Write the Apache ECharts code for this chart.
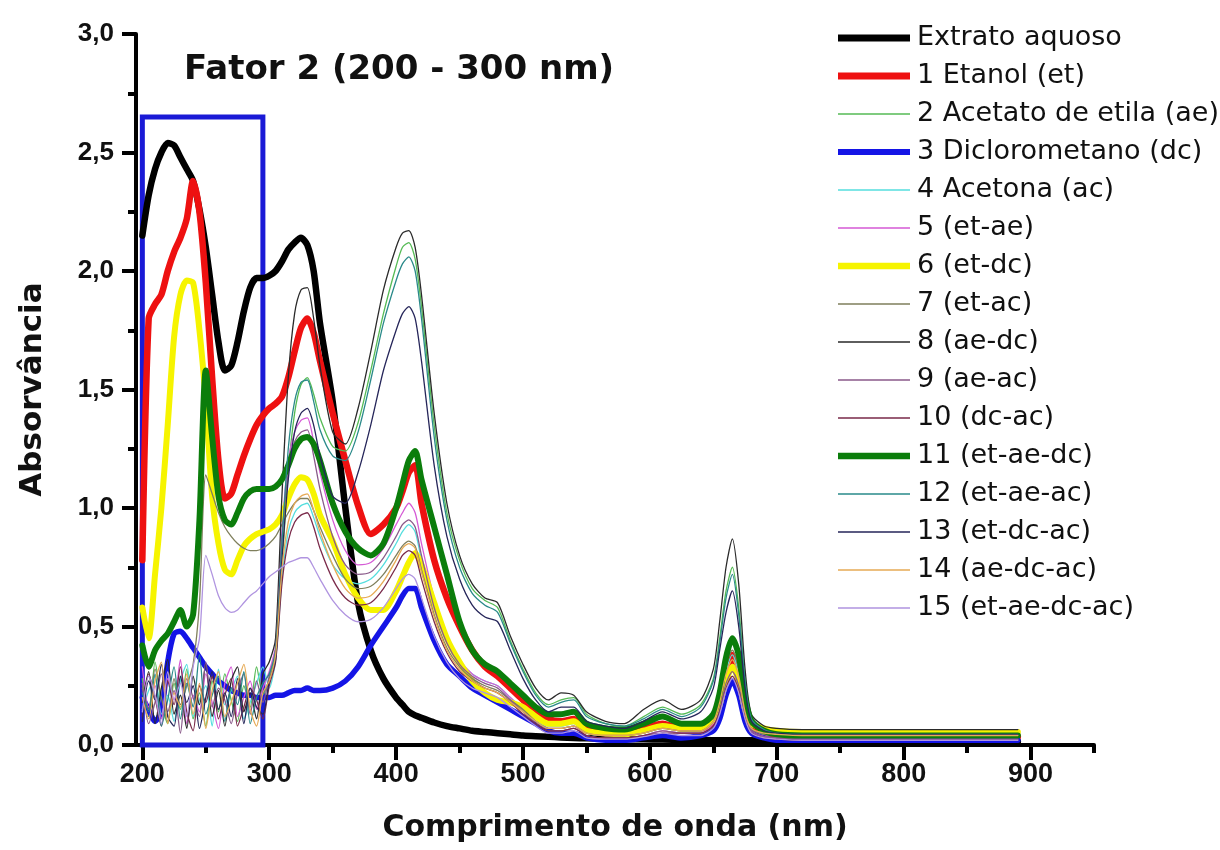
<!DOCTYPE html>
<html>
<head>
<meta charset="utf-8">
<title>Fator 2 (200 - 300 nm)</title>
<script src="https://cdn.jsdelivr.net/npm/echarts@6/dist/echarts.min.js"></script>
<style>
  html, body { margin: 0; padding: 0; background: #ffffff; }
  #chart { width: 1220px; height: 850px; }
</style>
</head>
<body>
<div id="chart"></div>
<script>
// Wavelength grid (nm) shared by every spectrum
const wavelength = [
  200,205,210,215,220,225,230,235,240,245,250,255,260,265,270,275,280,285,290,295,300,
  305,310,315,320,325,330,335,340,
  350,360,370,380,390,400,
  405,410,415,420,
  430,440,450,460,470,480,490,500,510,520,530,540,550,565,580,595,610,625,640,650,
  655,660,665,670,675,680,
  690,700,720,750,800,850,890
];

// Absorbance spectra
const extratoAquoso = [
  2.15,2.32,2.43,2.50,2.54,2.53,2.48,2.43,2.38,2.26,2.10,1.90,1.70,1.58,1.60,1.70,1.83,1.93,1.97,1.97,1.98,
  2.00,2.04,2.09,2.12,2.14,2.11,2.00,1.78,
  1.45,1.00,0.60,0.40,0.28,0.20,
  0.17,0.14,0.125,0.115,
  0.095,0.08,0.07,0.06,0.055,0.05,0.045,0.04,0.037,0.035,0.032,0.03,0.028,0.026,0.025,0.024,0.023,0.022,0.021,0.02,
  0.02,0.02,0.02,0.02,0.02,0.02,
  0.018,0.016,0.015,0.015,0.015,0.015,0.015
];
const etanol = [
  0.78,1.80,1.86,1.90,2.00,2.08,2.14,2.22,2.38,2.25,1.95,1.55,1.20,1.04,1.06,1.14,1.22,1.29,1.35,1.39,1.42,
  1.44,1.47,1.55,1.66,1.76,1.80,1.74,1.62,
  1.40,1.20,1.01,0.89,0.93,1.00,
  1.07,1.15,1.18,1.02,
  0.78,0.62,0.50,0.40,0.33,0.29,0.24,0.19,0.15,0.11,0.10,0.11,0.07,0.05,0.05,0.07,0.09,0.07,0.07,0.10,
  0.15,0.27,0.38,0.30,0.16,0.08,
  0.05,0.04,0.035,0.035,0.035,0.035,0.035
];
const acetatoEtila = [
  0.28,0.12,0.35,0.18,0.09,0.26,0.15,0.32,0.11,0.22,0.08,0.27,0.14,0.30,0.19,0.10,0.25,0.16,0.33,0.21,0.28,
  0.38,0.75,1.15,1.40,1.52,1.55,1.48,1.38,
  1.26,1.24,1.36,1.58,1.82,2.02,
  2.10,2.12,2.05,1.85,
  1.35,0.98,0.78,0.66,0.61,0.58,0.44,0.32,0.22,0.17,0.19,0.20,0.13,0.09,0.08,0.12,0.16,0.13,0.17,0.28,
  0.45,0.65,0.75,0.58,0.28,0.12,
  0.07,0.055,0.05,0.05,0.05,0.05,0.05
];
const diclorometano = [
  0.20,0.15,0.10,0.14,0.35,0.47,0.48,0.45,0.41,0.37,0.33,0.30,0.27,0.25,0.23,0.22,0.21,0.21,0.20,0.20,0.20,
  0.21,0.21,0.22,0.23,0.23,0.24,0.23,0.23,
  0.24,0.27,0.33,0.42,0.50,0.58,
  0.63,0.66,0.66,0.58,
  0.44,0.34,0.29,0.24,0.21,0.18,0.15,0.12,0.09,0.06,0.05,0.05,0.03,0.02,0.02,0.03,0.04,0.03,0.04,0.06,
  0.11,0.21,0.27,0.21,0.10,0.05,
  0.03,0.02,0.02,0.02,0.02,0.02,0.02
];
const acetona = [
  0.15,0.23,0.29,0.13,0.21,0.10,0.27,0.34,0.12,0.19,0.25,0.08,0.32,0.17,0.23,0.29,0.11,0.18,0.26,0.33,0.24,
  0.36,0.70,0.90,0.98,1.01,1.02,0.96,0.88,
  0.76,0.70,0.68,0.70,0.76,0.85,
  0.90,0.93,0.90,0.78,
  0.58,0.44,0.35,0.30,0.27,0.25,0.20,0.15,0.10,0.08,0.08,0.09,0.05,0.04,0.04,0.05,0.07,0.06,0.06,0.10,
  0.18,0.31,0.38,0.30,0.14,0.07,
  0.045,0.04,0.035,0.035,0.035,0.035,0.035
];
const etAe = [
  0.33,0.16,0.25,0.11,0.28,0.19,0.36,0.09,0.21,0.14,0.30,0.18,0.07,0.26,0.33,0.12,0.20,0.27,0.15,0.24,0.31,
  0.42,0.90,1.20,1.32,1.37,1.38,1.28,1.15,
  0.95,0.82,0.76,0.77,0.83,0.93,
  0.98,1.02,0.98,0.85,
  0.62,0.46,0.36,0.30,0.27,0.25,0.20,0.15,0.10,0.07,0.07,0.08,0.04,0.03,0.03,0.04,0.06,0.05,0.05,0.09,
  0.16,0.28,0.34,0.27,0.13,0.06,
  0.035,0.03,0.025,0.025,0.025,0.025,0.025
];
const etDc = [
  0.58,0.45,0.72,1.00,1.35,1.72,1.90,1.96,1.95,1.75,1.45,1.05,0.85,0.74,0.72,0.78,0.84,0.87,0.89,0.90,0.91,
  0.93,0.97,1.04,1.10,1.13,1.12,1.06,0.97,
  0.86,0.72,0.62,0.57,0.57,0.65,
  0.71,0.77,0.81,0.76,
  0.60,0.45,0.35,0.27,0.22,0.19,0.18,0.16,0.12,0.09,0.09,0.10,0.06,0.05,0.045,0.06,0.08,0.07,0.07,0.11,
  0.17,0.27,0.33,0.27,0.15,0.09,
  0.07,0.06,0.055,0.055,0.055,0.055,0.055
];
const etAc = [
  0.24,0.15,0.32,0.20,0.10,0.28,0.17,0.25,0.34,0.60,1.14,1.06,0.98,0.92,0.88,0.85,0.83,0.82,0.82,0.83,0.85,
  0.88,0.93,0.98,1.02,1.04,1.04,0.99,0.92,
  0.80,0.70,0.66,0.67,0.72,0.80,
  0.84,0.86,0.84,0.74,
  0.55,0.41,0.33,0.28,0.25,0.23,0.19,0.15,0.10,0.07,0.07,0.08,0.05,0.04,0.04,0.05,0.07,0.06,0.06,0.10,
  0.19,0.33,0.40,0.32,0.15,0.07,
  0.045,0.04,0.035,0.035,0.035,0.035,0.035
];
const aeDc = [
  0.18,0.31,0.09,0.24,0.36,0.13,0.21,0.07,0.29,0.17,0.34,0.12,0.23,0.08,0.27,0.33,0.14,0.22,0.11,0.30,0.35,
  0.45,1.05,1.55,1.82,1.92,1.93,1.80,1.60,
  1.32,1.27,1.42,1.66,1.92,2.10,
  2.16,2.17,2.10,1.90,
  1.40,1.02,0.80,0.68,0.62,0.60,0.46,0.34,0.24,0.19,0.22,0.21,0.14,0.10,0.09,0.15,0.19,0.15,0.19,0.32,
  0.52,0.75,0.87,0.68,0.32,0.13,
  0.08,0.07,0.065,0.065,0.065,0.065,0.065
];
const aeAc = [
  0.26,0.09,0.18,0.30,0.14,0.23,0.05,0.28,0.20,0.12,0.35,0.16,0.24,0.19,0.09,0.22,0.30,0.13,0.27,0.18,0.29,
  0.40,0.88,1.15,1.28,1.32,1.33,1.22,1.08,
  0.88,0.76,0.72,0.73,0.79,0.88,
  0.93,0.95,0.92,0.80,
  0.58,0.43,0.34,0.29,0.26,0.24,0.19,0.14,0.09,0.06,0.06,0.07,0.04,0.03,0.03,0.04,0.06,0.05,0.05,0.08,
  0.15,0.26,0.31,0.25,0.12,0.06,
  0.035,0.03,0.025,0.025,0.025,0.025,0.025
];
const dcAc = [
  0.12,0.30,0.20,0.08,0.27,0.17,0.33,0.14,0.06,0.25,0.18,0.29,0.11,0.21,0.28,0.08,0.16,0.24,0.19,0.11,0.25,
  0.35,0.68,0.86,0.94,0.97,0.98,0.92,0.83,
  0.70,0.62,0.59,0.60,0.66,0.75,
  0.80,0.82,0.80,0.70,
  0.52,0.39,0.31,0.27,0.24,0.22,0.18,0.13,0.09,0.06,0.06,0.07,0.04,0.03,0.03,0.04,0.05,0.05,0.05,0.08,
  0.14,0.24,0.29,0.23,0.11,0.05,
  0.03,0.025,0.02,0.02,0.02,0.02,0.02
];
const etAeDc = [
  0.42,0.33,0.40,0.44,0.47,0.52,0.57,0.50,0.55,0.95,1.58,1.30,1.05,0.95,0.93,0.98,1.04,1.07,1.08,1.08,1.08,
  1.09,1.12,1.18,1.25,1.29,1.30,1.27,1.20,
  1.02,0.90,0.83,0.80,0.85,1.00,
  1.10,1.20,1.24,1.12,
  0.92,0.72,0.52,0.40,0.34,0.31,0.26,0.21,0.16,0.13,0.13,0.14,0.09,0.07,0.065,0.09,0.12,0.09,0.09,0.13,
  0.22,0.37,0.45,0.38,0.20,0.10,
  0.06,0.045,0.04,0.04,0.04,0.04,0.04
];
const etAeAc = [
  0.22,0.14,0.30,0.08,0.19,0.33,0.11,0.26,0.16,0.38,0.13,0.21,0.29,0.10,0.24,0.17,0.31,0.09,0.20,0.26,0.30,
  0.40,0.85,1.25,1.45,1.53,1.54,1.45,1.33,
  1.22,1.20,1.32,1.54,1.78,1.96,
  2.03,2.06,2.00,1.80,
  1.30,0.95,0.75,0.64,0.59,0.56,0.43,0.31,0.21,0.16,0.18,0.19,0.12,0.09,0.08,0.11,0.15,0.12,0.16,0.27,
  0.43,0.62,0.72,0.55,0.27,0.11,
  0.065,0.05,0.045,0.045,0.045,0.045,0.045
];
const etDcAc = [
  0.10,0.27,0.19,0.34,0.12,0.08,0.29,0.18,0.25,0.07,0.20,0.31,0.15,0.22,0.12,0.28,0.09,0.24,0.16,0.13,0.27,
  0.36,0.78,1.12,1.32,1.40,1.42,1.35,1.22,
  1.05,1.02,1.15,1.35,1.58,1.75,
  1.82,1.85,1.80,1.62,
  1.18,0.88,0.70,0.59,0.54,0.52,0.40,0.28,0.19,0.14,0.16,0.16,0.10,0.08,0.07,0.10,0.14,0.11,0.14,0.24,
  0.40,0.56,0.65,0.50,0.24,0.10,
  0.06,0.05,0.045,0.045,0.045,0.045,0.045
];
const aeDcAc = [
  0.20,0.11,0.27,0.35,0.09,0.22,0.16,0.30,0.13,0.26,0.07,0.23,0.31,0.12,0.18,0.26,0.34,0.15,0.08,0.22,0.27,
  0.38,0.74,0.94,1.02,1.05,1.06,0.99,0.90,
  0.76,0.66,0.62,0.63,0.69,0.78,
  0.83,0.85,0.83,0.73,
  0.54,0.40,0.32,0.27,0.24,0.22,0.18,0.14,0.10,0.07,0.07,0.08,0.05,0.04,0.04,0.05,0.07,0.06,0.06,0.10,
  0.18,0.30,0.36,0.29,0.14,0.07,
  0.05,0.045,0.04,0.04,0.04,0.04,0.04
];
const etAeDcAc = [
  0.14,0.29,0.21,0.09,0.31,0.19,0.26,0.12,0.33,0.45,0.80,0.72,0.63,0.58,0.56,0.57,0.60,0.63,0.65,0.68,0.71,
  0.73,0.75,0.77,0.78,0.79,0.79,0.75,0.70,
  0.61,0.55,0.52,0.53,0.58,0.66,
  0.70,0.72,0.70,0.62,
  0.46,0.35,0.28,0.24,0.22,0.20,0.16,0.12,0.08,0.05,0.05,0.06,0.03,0.025,0.025,0.035,0.05,0.04,0.04,0.07,
  0.13,0.23,0.28,0.22,0.11,0.05,
  0.03,0.025,0.02,0.02,0.02,0.02,0.02
];

// Legend names, in plotting order
const seriesNames = [
  'Extrato aquoso', '1 Etanol (et)', '2 Acetato de etila (ae)', '3 Diclorometano (dc)',
  '4 Acetona (ac)', '5 (et-ae)', '6 (et-dc)', '7 (et-ac)', '8 (ae-dc)', '9 (ae-ac)',
  '10 (dc-ac)', '11 (et-ae-dc)', '12 (et-ae-ac)', '13 (et-dc-ac)', '14 (ae-dc-ac)', '15 (et-ae-dc-ac)'
];
const seriesValues = [
  extratoAquoso, etanol, acetatoEtila, diclorometano, acetona, etAe, etDc, etAc,
  aeDc, aeAc, dcAc, etAeDc, etAeAc, etDcAc, aeDcAc, etAeDcAc
];

// Axis ticks
const xMajorTicks = [200, 300, 400, 500, 600, 700, 800, 900];
const xMinorTicks = [250, 350, 450, 550, 650, 750, 850, 950];

// Highlighted window of Fator 2: [nm from, nm to, absorbance from, absorbance to]
const factorWindow = [200, 295, 0, 2.65];

// Styles
const lineColors = [
  '#000000', '#ee1111', '#55bb55', '#1414e6', '#55dede', '#d55ad5', '#f6f400', '#7f7f5c',
  '#2a2a2a', '#8a5a8a', '#7a2a4a', '#0b7d0b', '#2a8a8a', '#26265a', '#e6aa55', '#b094e0'
];
const lineWidths = [6.5, 6.5, 1.3, 5.5, 1.3, 1.3, 6, 1.3, 1.3, 1.3, 1.3, 6, 1.3, 1.3, 1.3, 1.3];

const FONT_AXIS = 'Liberation Sans, Arial, sans-serif';
const FONT_TEXT = 'DejaVu Sans, sans-serif';

const ICON_W = 72;
const ICON_H = 12;

// Legend key: a bar as thick as the plotted line, centred in the key box
function legendBar(thickness) {
  const y0 = (ICON_H - thickness) / 2;
  const y1 = y0 + thickness;
  return 'path://M0,0L0.001,0M0,' + ICON_H + 'L0.001,' + ICON_H +
    'M0,' + y0 + 'L' + ICON_W + ',' + y0 + 'L' + ICON_W + ',' + y1 + 'L0,' + y1 + 'Z';
}

const series = seriesNames.map((name, k) => ({
  name: name,
  type: 'line',
  data: wavelength.map((w, i) => [w, seriesValues[k][i]]),
  showSymbol: false,
  symbol: 'none',
  smooth: 0.25,
  lineStyle: { color: lineColors[k], width: lineWidths[k], cap: 'round', join: 'round' },
  itemStyle: { color: lineColors[k] },
  emphasis: { disabled: true },
  z: 2
}));

// Blue frame around the 200–300 nm region
series.push({
  name: 'janela',
  type: 'line',
  data: [],
  silent: true,
  z: 5,
  markArea: {
    silent: true,
    itemStyle: { color: 'rgba(0,0,0,0)', borderColor: '#1a1ad6', borderWidth: 5 },
    data: [[
      { xAxis: factorWindow[0], yAxis: factorWindow[2] },
      { xAxis: factorWindow[1], yAxis: factorWindow[3] }
    ]]
  }
});

const legendItems = seriesNames.map((name, k) => ({
  name: name,
  icon: legendBar(lineWidths[k] < 2 ? 1.6 : lineWidths[k] + 0.5),
  itemStyle: { color: lineColors[k], borderWidth: 0 }
}));

const chart = echarts.init(document.getElementById('chart'), null, { renderer: 'canvas' });

chart.setOption({
  animation: false,
  backgroundColor: '#ffffff',
  title: {
    text: 'Fator 2 (200 - 300 nm)',
    left: 179,
    top: 48,
    textStyle: { fontFamily: FONT_TEXT, fontSize: 34, fontWeight: 'bold', color: '#111111' }
  },
  legend: {
    data: legendItems,
    orient: 'vertical',
    left: 833,
    top: 18,
    itemWidth: ICON_W,
    itemHeight: ICON_H,
    itemGap: 8,
    textStyle: { fontFamily: FONT_TEXT, fontSize: 27, color: '#111111', lineHeight: 30, padding: [0, 0, 0, 2] },
    selectedMode: false
  },
  grid: { left: 136, right: 126, top: 34, bottom: 105 },
  xAxis: [
    {
      type: 'value',
      min: 195,
      max: 950,
      name: 'Comprimento de onda (nm)',
      nameLocation: 'middle',
      nameGap: 68,
      nameTextStyle: { fontFamily: FONT_TEXT, fontSize: 30, fontWeight: 'bold', color: '#111111' },
      axisLine: { show: true, onZero: false, lineStyle: { color: '#000', width: 4 } },
      axisTick: { show: true, customValues: xMajorTicks, length: 15, lineStyle: { color: '#000', width: 4 } },
      axisLabel: {
        customValues: xMajorTicks,
        margin: 16,
        fontFamily: FONT_AXIS, fontSize: 27, fontWeight: 'bold', color: '#111111'
      },
      splitLine: { show: false }
    },
    {
      type: 'value',
      min: 195,
      max: 950,
      position: 'bottom',
      axisLine: { show: false },
      axisTick: { show: true, customValues: xMinorTicks, length: 8, lineStyle: { color: '#000', width: 4 } },
      axisLabel: { show: false },
      splitLine: { show: false }
    }
  ],
  yAxis: {
    type: 'value',
    min: 0,
    max: 3,
    interval: 0.5,
    name: 'Absorvância',
    nameLocation: 'middle',
    nameGap: 88,
    nameRotate: 90,
    nameTextStyle: { fontFamily: FONT_TEXT, fontSize: 31, fontWeight: 'bold', color: '#111111' },
    axisLine: { show: true, onZero: false, lineStyle: { color: '#000', width: 4 } },
    axisTick: { show: true, length: 14, lineStyle: { color: '#000', width: 4 } },
    minorTick: { show: true, splitNumber: 2, length: 8, lineStyle: { color: '#000', width: 4 } },
    axisLabel: {
      margin: 22,
      fontFamily: FONT_AXIS, fontSize: 26, fontWeight: 'bold', color: '#111111',
      formatter: v => v.toFixed(1).replace('.', ',')
    },
    splitLine: { show: false },
    minorSplitLine: { show: false }
  },
  series: series
});
</script>
</body>
</html>
